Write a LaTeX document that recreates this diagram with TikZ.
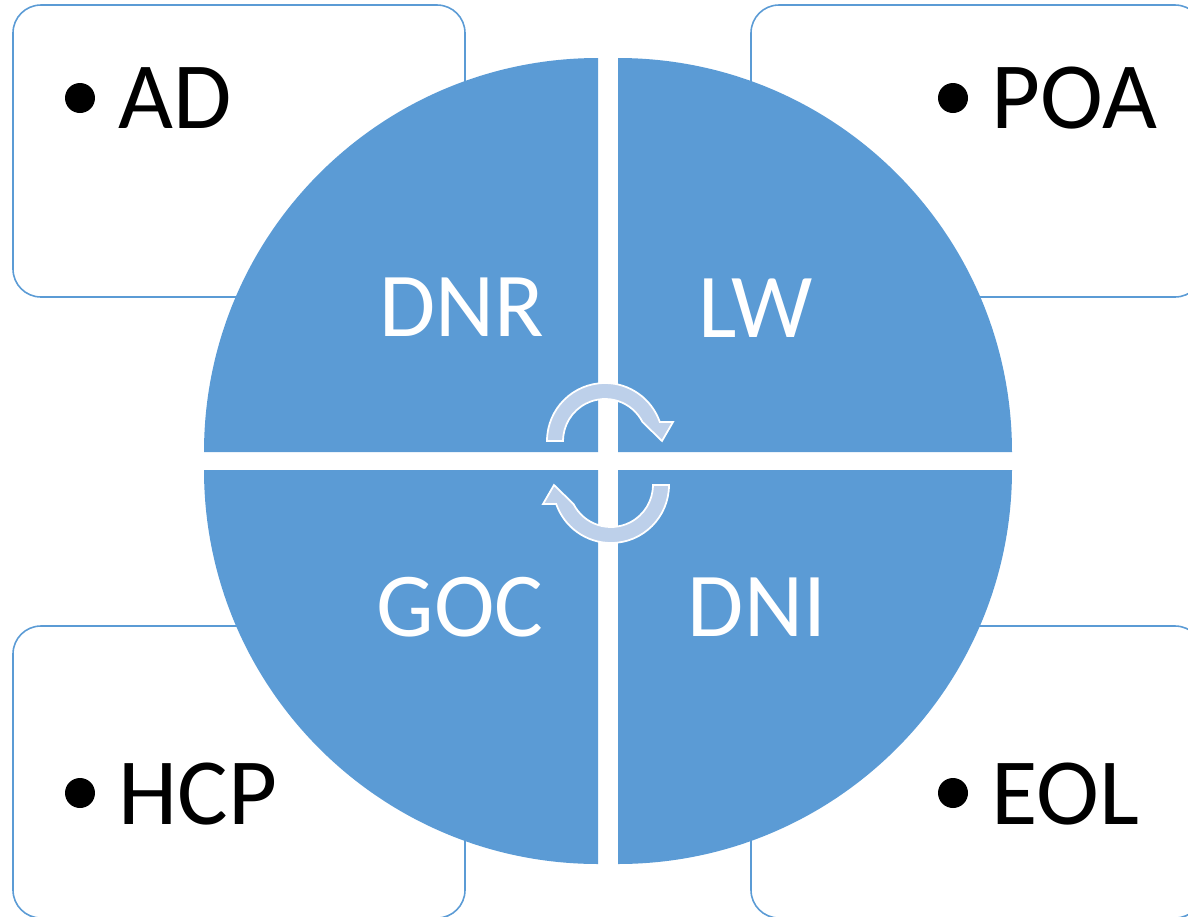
\documentclass[tikz,border=0pt]{standalone}
\usepackage{fontspec}
\setmainfont{Carlito}
\usetikzlibrary{positioning}

\definecolor{quadblue}{HTML}{5B9BD5}
\definecolor{arrowblue}{HTML}{BDD0EA}

\begin{document}
\begin{tikzpicture}[x=0.02cm, y=-0.02cm,
    quad/.style={fill=quadblue},
    itembox/.style={draw=quadblue, line width=0.9pt, rounded corners=0.56cm},
    quadlabel/.style={text=white, font=\fontsize{52}{52}\selectfont, anchor=base, inner sep=0pt},
    itemlabel/.style={font=\fontsize{54}{54}\selectfont, anchor=base west, inner sep=0pt},
    itembullet/.style={circle, fill=black, minimum size=0.6cm, inner sep=0pt},
    cyclearrow/.pic={
      \filldraw[fill=arrowblue, draw=white, line width=1pt, line join=miter]
        (-58,0) arc (180:340.9:58) -- (68,-19) -- (57,0) -- (37.5,-19)
        arc (333.1:180:42) -- cycle;
    }]
    \clip (0,0) rectangle (1188,917);

    % boxes behind the circle
    \draw[itembox] (13,5) rectangle (465,297);
    \draw[itembox] (751,5) rectangle (1203,297);
    \draw[itembox] (13,626) rectangle (465,918);
    \draw[itembox] (751,626) rectangle (1203,918);

    \node[itembullet] (adbul) at (80,98) {};
    \node[itemlabel] (ad) at (118,128) {AD};
    \node[itembullet] (poabul) at (953,98) {};
    \node[itemlabel] (poa) at (991,128) {POA};
    \node[itembullet] (hcpbul) at (80,793) {};
    \node[itemlabel] (hcp) at (118,824) {HCP};
    \node[itembullet] (eolbul) at (953,793) {};
    \node[itemlabel] (eol) at (991,824) {EOL};

    % four quarters of the circle
    \fill[quad] (598,452) -- (204,452) arc (180:270:394) -- cycle;
    \fill[quad] (618,452) -- (618,58) arc (270:360:394) -- cycle;
    \fill[quad] (618,470) -- (1012,470) arc (0:90:394) -- cycle;
    \fill[quad] (598,470) -- (598,864) arc (90:180:394) -- cycle;

    \node[quadlabel] (dnr) at (462,336) {DNR};
    \node[quadlabel] (lw) at (756,337) {LW};
    \node[quadlabel] (goc) at (460,636) {GOC};
    \node[quadlabel] (dni) at (757,636) {DNI};

    % cycle arrows in the middle
    \pic at (605,441) {cyclearrow};
    \pic[rotate=180] at (611,485) {cyclearrow};
\end{tikzpicture}
\end{document}
